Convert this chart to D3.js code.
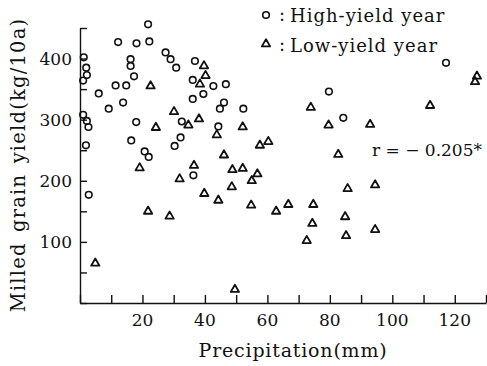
<!DOCTYPE html>
<html>
<head>
  <script src="https://d3js.org/d3.v7.min.js"></script>
  <style>
    body { margin: 0; background: #fff; }
    text { font-family: "DejaVu Serif", "Liberation Serif", serif; fill: #111; }
  </style>
</head>
<body>
<svg width="487" height="366"></svg>
<script>
  // [precipitation (mm), milled grain yield (kg/10a)]
  let high_yield = [
    [21.8, 456], [12.2, 427], [18.1, 425], [22.2, 428], [27.4, 410], [29.0, 399],
    [30.8, 385], [16.2, 399], [16.2, 388], [17.3, 371], [11.4, 356], [14.8, 356],
    [6.0, 343], [13.8, 328], [9.2, 318], [18.0, 296], [16.4, 266], [20.7, 248],
    [22.0, 239], [30.3, 257], [1.2, 402], [2.0, 385], [2.2, 373], [1.0, 364],
    [1.0, 308], [2.2, 298], [2.7, 288], [1.9, 258], [2.8, 177], [36.8, 396],
    [36.1, 365], [42.7, 355], [46.7, 358], [39.5, 342], [36.1, 334], [46.1, 328],
    [44.8, 318], [52.3, 318], [32.6, 297], [44.3, 289], [32.2, 271], [36.3, 209],
    [79.7, 346], [84.3, 303], [117.2, 393]
  ];
  let low_yield = [
    [22.6, 355], [24.3, 287], [30.1, 313], [19.1, 221], [21.8, 150], [28.7, 142],
    [4.9, 65], [31.9, 203], [39.7, 388], [40.2, 372], [38.4, 358], [38.1, 301],
    [34.7, 291], [43.8, 275], [52.1, 288], [57.6, 258], [60.3, 264], [46.1, 242],
    [36.5, 225], [48.8, 218], [52.1, 220], [56.8, 211], [55.0, 200], [48.6, 190],
    [39.8, 179], [44.3, 168], [54.8, 160], [49.6, 22], [73.9, 320], [79.6, 291],
    [92.9, 292], [82.7, 243], [85.7, 187], [94.5, 193], [62.8, 150], [66.7, 161],
    [74.7, 161], [74.4, 130], [72.6, 102], [84.9, 141], [85.2, 110], [94.5, 120],
    [112.1, 323], [126.5, 362], [127.1, 371]
  ];
  let x_ticks = d3.range(0, 131, 10),
    x_labels = [20, 40, 60, 80, 100, 120],
    y_ticks = d3.range(0, 451, 50),
    y_labels = [100, 200, 300, 400],
    legend_labels = ["High-yield year", "Low-yield year"],
    r_label = "r = − 0.205*";

  let svg = d3.select("svg"),
    margins = { left: 80, right: 1, top: 28, bottom: 63 },
    width = 487, height = 366;

  let x = d3.scaleLinear().domain([0, 130]).range([margins.left, width - margins.right]),
    y = d3.scaleLinear().domain([0, 450]).range([height - margins.bottom, margins.top]);

  let tri = d3.symbol(d3.symbolTriangle, 30);

  // axes: ticks point inwards
  let x_axis = svg.append("g")
    .attr("transform", `translate(0, ${y(0)})`)
    .call(d3.axisBottom(x).tickValues(x_ticks).tickSizeInner(-8).tickSizeOuter(0).tickFormat(""));
  let y_axis = svg.append("g")
    .attr("transform", `translate(${x(0)}, 0)`)
    .call(d3.axisLeft(y).tickValues(y_ticks).tickSizeInner(-7).tickSizeOuter(0).tickFormat(""));
  svg.selectAll(".domain, .tick line").attr("stroke", "#111").attr("stroke-width", 1.4);

  svg.append("g").selectAll("text")
    .data(x_labels).enter()
    .append("text")
    .attr("x", d => x(d))
    .attr("y", y(0) + 23)
    .attr("text-anchor", "middle")
    .attr("font-size", "17px")
    .text(d => d);

  svg.append("g").selectAll("text")
    .data(y_labels).enter()
    .append("text")
    .attr("x", x(0) - 8)
    .attr("y", d => y(d) + 6)
    .attr("text-anchor", "end")
    .attr("font-size", "17px")
    .text(d => d);

  // points
  svg.append("g").selectAll("circle")
    .data(high_yield).enter()
    .append("circle")
    .attr("cx", d => x(d[0]))
    .attr("cy", d => y(d[1]))
    .attr("r", 3.3)
    .attr("fill", "none")
    .attr("stroke", "#111")
    .attr("stroke-width", 1.6);

  svg.append("g").selectAll("path")
    .data(low_yield).enter()
    .append("path")
    .attr("d", tri)
    .attr("transform", d => `translate(${x(d[0])}, ${y(d[1])})`)
    .attr("fill", "none")
    .attr("stroke", "#111")
    .attr("stroke-width", 1.8)
    .attr("stroke-linejoin", "round");

  // legend
  let legend = svg.append("g");
  legend.append("circle")
    .attr("cx", 266).attr("cy", 15).attr("r", 3.3)
    .attr("fill", "none").attr("stroke", "#111").attr("stroke-width", 1.6);
  legend.append("path")
    .attr("d", tri)
    .attr("transform", "translate(266, 44)")
    .attr("fill", "none").attr("stroke", "#111").attr("stroke-width", 1.8)
    .attr("stroke-linejoin", "round");
  legend.selectAll("text.colon")
    .data(legend_labels).enter()
    .append("text")
    .attr("class", "colon")
    .attr("x", 279)
    .attr("y", (d, i) => 21 + i * 30)
    .attr("font-size", "18px")
    .text(":");
  legend.selectAll("text.lab")
    .data(legend_labels).enter()
    .append("text")
    .attr("class", "lab")
    .attr("x", 290)
    .attr("y", (d, i) => 22 + i * 30)
    .attr("font-size", "18px")
    .attr("letter-spacing", "1px")
    .text(d => d);

  svg.append("text")
    .attr("x", 372)
    .attr("y", 156)
    .attr("font-size", "17px")
    .text(r_label);

  // titles
  svg.append("text")
    .attr("text-anchor", "middle")
    .attr("font-size", "19px")
    .attr("letter-spacing", "0.8px")
    .attr("transform", `translate(293, 357)`)
    .text("Precipitation(mm)");
  svg.append("text")
    .attr("text-anchor", "middle")
    .attr("font-size", "19.5px")
    .attr("letter-spacing", "1.2px")
    .attr("word-spacing", "3px")
    .attr("transform", `translate(25, 165) rotate(-90)`)
    .text("Milled grain yield(kg/10a)");
</script>
</body>
</html>
